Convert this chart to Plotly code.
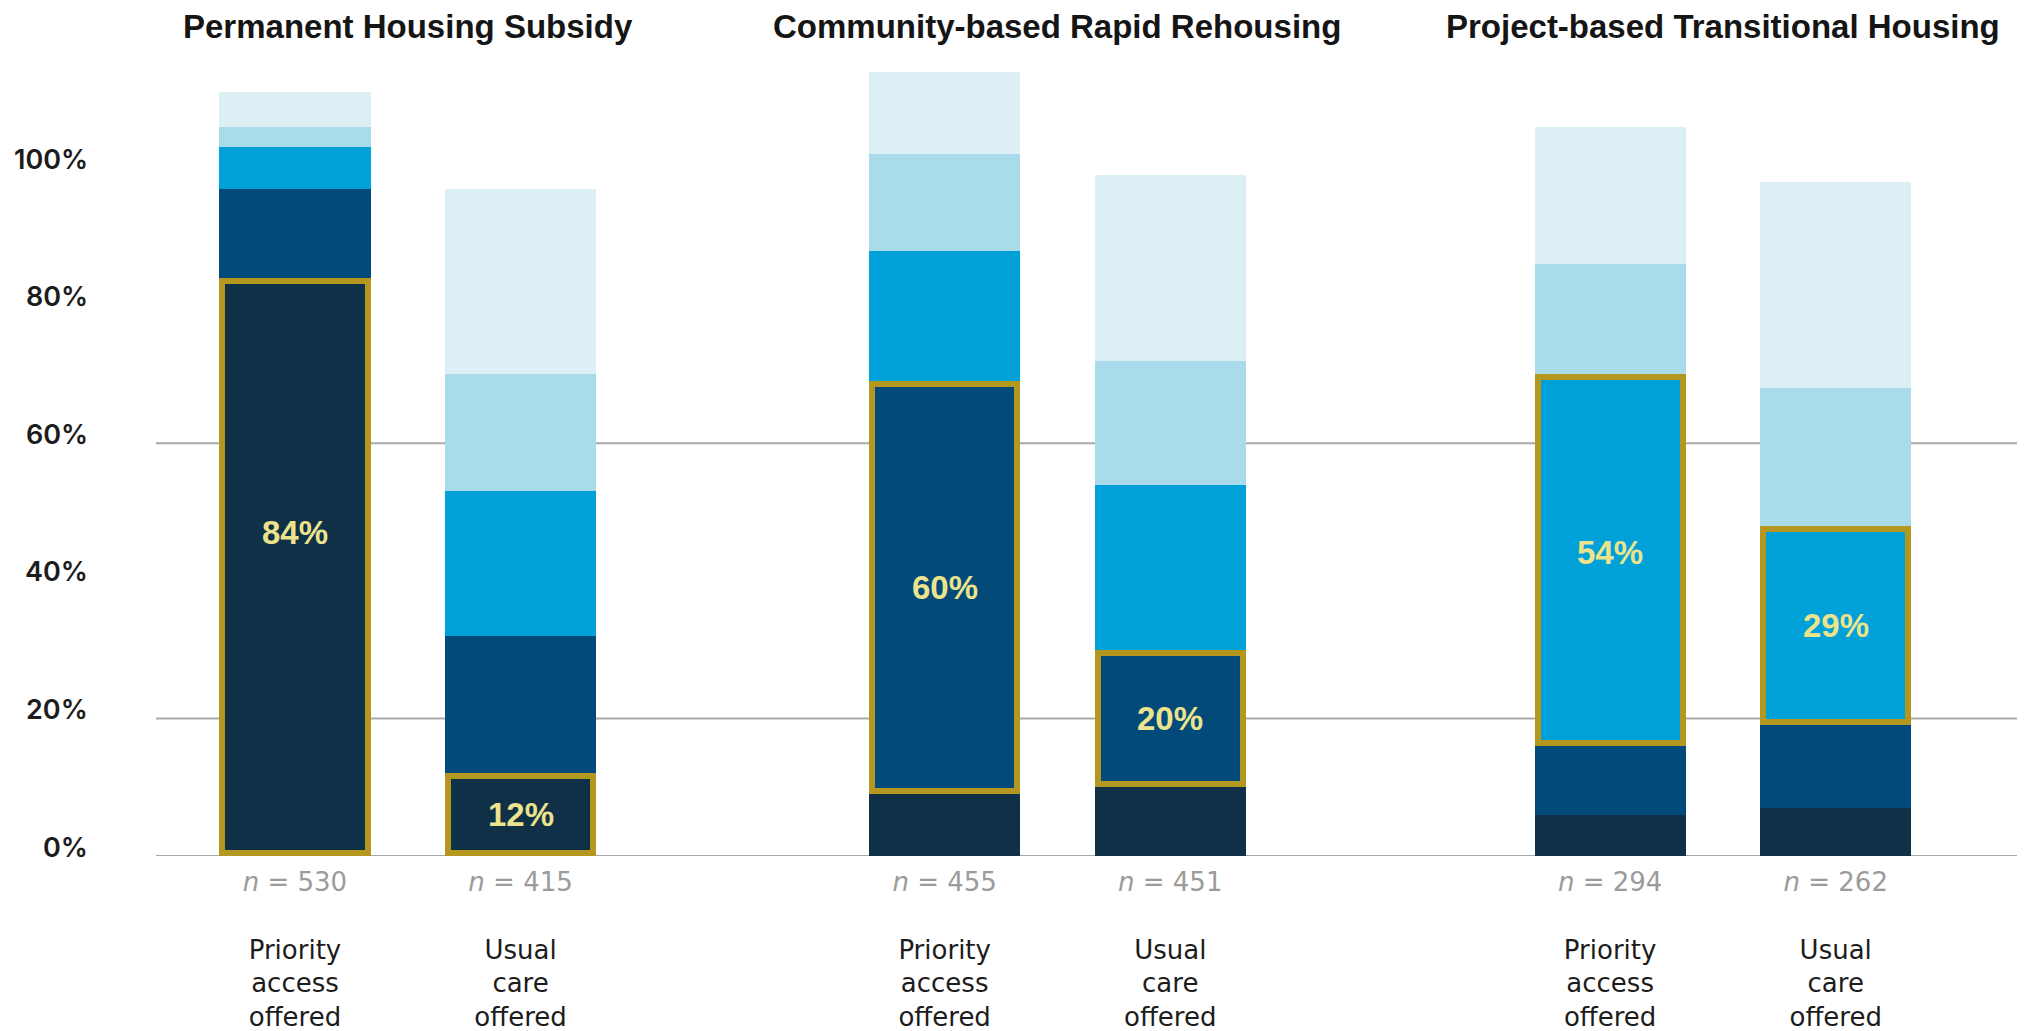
import plotly.graph_objects as go

# Groups and arms (bars ordered PHS-priority, PHS-usual, CRR-priority, CRR-usual, PTH-priority, PTH-usual)
GROUPS = [
    "Permanent Housing Subsidy",
    "Community-based Rapid Rehousing",
    "Project-based Transitional Housing",
]
ARMS = ["Priority<br>access<br>offered", "Usual<br>care<br>offered"]
N_SIZES = [530, 415, 455, 451, 294, 262]

# Stacked segments, bottom to top (percent)
SEG_1 = [84, 12, 9, 10, 6, 7]
SEG_2 = [13, 20, 60, 20, 10, 12]
SEG_3 = [6, 21, 19, 24, 54, 29]
SEG_4 = [3, 17, 14, 18, 16, 20]
SEG_5 = [5, 27, 12, 27, 20, 30]

# which segment (0-based) is outlined in each bar
HIGHLIGHT_SEG = [0, 0, 1, 1, 2, 2]

Y_TICKS = [0, 20, 40, 60, 80, 100]
GRID_LEVELS = [0, 20, 60]

SEG_COLORS = ["#0f3047", "#014a79", "#00a0d9", "#a9dbeb", "#dbeff5"]
GOLD = "#b3971f"
LABEL_YELLOW = "#ece38d"
TEXT_COLOR = "#1c1c1c"
N_COLOR = "#9b9b9b"

# layout
GROUP_X = [0, 2.88, 5.83]
BAR_WIDTH = 0.67
Y_MAX = 116
OUTLINE = 6
LABEL_NUDGE = [35, 0, 0, 0, 8, 0]  # px, value labels sit a bit above centre in a few bars

# the page body adds an 8px offset, so the figure is 8px smaller than the window
FIG_W, FIG_H = 2017, 1023
MARGIN = dict(l=148, r=0, t=50, b=175)

segments = [SEG_1, SEG_2, SEG_3, SEG_4, SEG_5]
x_pos = [gx + a for gx in GROUP_X for a in (0, 1)]
x_range = [-0.616, 7.669]

fig = go.Figure()
for seg, color in zip(segments, SEG_COLORS):
    fig.add_trace(
        go.Bar(
            x=x_pos,
            y=seg,
            width=BAR_WIDTH,
            marker=dict(color=color, line=dict(width=0)),
            showlegend=False,
            hoverinfo="skip",
        )
    )

# gold outlined segment, drawn on an overlaid axis so it sits on top
plot_h = FIG_H - MARGIN["t"] - MARGIN["b"]
plot_w = FIG_W - MARGIN["l"] - MARGIN["r"]
inset_y = (OUTLINE / 2) * Y_MAX / plot_h
inset_x = (OUTLINE / 2) * (x_range[1] - x_range[0]) / plot_w

hl_base, hl_val = [], []
for i, h in enumerate(HIGHLIGHT_SEG):
    hl_base.append(sum(segments[k][i] for k in range(h)))
    hl_val.append(segments[h][i])

fig.add_trace(
    go.Bar(
        x=x_pos,
        y=[v - 2 * inset_y for v in hl_val],
        base=[b + inset_y for b in hl_base],
        width=BAR_WIDTH - 2 * inset_x,
        yaxis="y2",
        marker=dict(color="rgba(0,0,0,0)", line=dict(color=GOLD, width=OUTLINE)),
        showlegend=False,
        hoverinfo="skip",
    )
)

for i in range(len(x_pos)):
    fig.add_annotation(
        x=x_pos[i],
        y=hl_base[i] + hl_val[i] / 2,
        yshift=LABEL_NUDGE[i],
        text=f"<b>{hl_val[i]}%</b>",
        showarrow=False,
        font=dict(color=LABEL_YELLOW, size=33, family="Liberation Sans"),
    )

for lvl in GRID_LEVELS:
    fig.add_hline(y=lvl, line=dict(color="#a9a9a9", width=2), layer="below")

# y labels sit just above their level
for v in Y_TICKS:
    fig.add_annotation(
        x=0,
        xref="paper",
        xanchor="right",
        xshift=-66,
        y=v,
        yref="y",
        yshift=9,
        text=f"{v}%",
        showarrow=False,
        font=dict(size=27, family="Inter", weight=600, color=TEXT_COLOR),
    )

for g, name in enumerate(GROUPS):
    fig.add_annotation(
        x=GROUP_X[g] + 0.5,
        xref="x",
        y=1 + 32 / plot_h,
        yref="paper",
        yanchor="middle",
        text=f"<b>{name}</b>",
        showarrow=False,
        font=dict(family="Liberation Sans", size=33, color="#151515"),
    )

tick_text = [
    f"<span style='color:{N_COLOR}'><i>n</i> = {n}</span><br><br>{ARMS[i % 2]}"
    for i, n in enumerate(N_SIZES)
]

fig.update_layout(
    width=FIG_W,
    height=FIG_H,
    barmode="stack",
    bargap=0,
    plot_bgcolor="white",
    paper_bgcolor="white",
    margin=MARGIN,
    font=dict(family="DejaVu Sans", color=TEXT_COLOR, size=26),
    xaxis=dict(
        range=x_range,
        tickvals=x_pos,
        ticktext=tick_text,
        showgrid=False,
        zeroline=False,
        showline=False,
        ticks="",
        automargin=False,
        ticklabelstandoff=8,
        tickfont=dict(size=26, family="DejaVu Sans", color=TEXT_COLOR),
    ),
    yaxis=dict(
        range=[0, Y_MAX],
        showgrid=False,
        zeroline=False,
        showline=False,
        showticklabels=False,
        ticks="",
        automargin=False,
    ),
    yaxis2=dict(
        range=[0, Y_MAX],
        overlaying="y",
        visible=False,
    ),
)

fig.write_html("out.html")
